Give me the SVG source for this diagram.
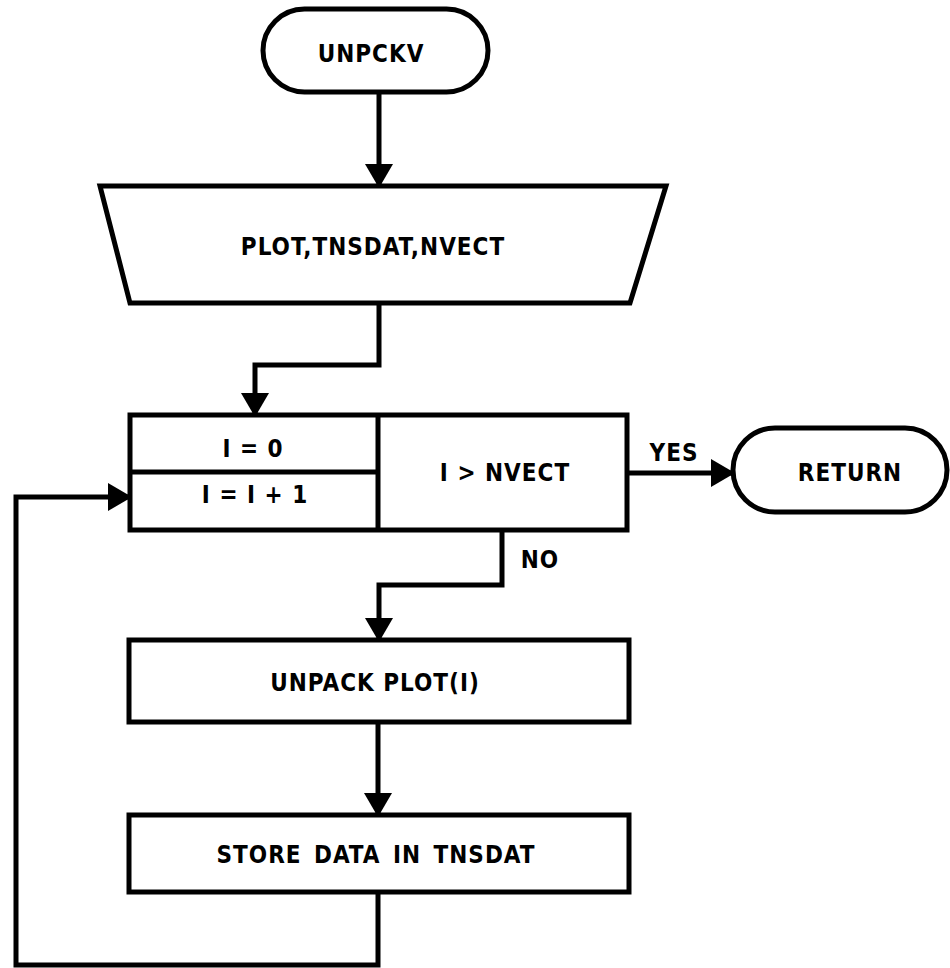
<svg xmlns="http://www.w3.org/2000/svg" width="950" height="968" viewBox="0 0 950 968">
<style>
.s{fill:#fff;stroke:#000;stroke-width:5;stroke-linejoin:miter}
.c{fill:none;stroke:#000;stroke-width:5}
.t{font-family:"DejaVu Sans Condensed","DejaVu Sans",sans-serif;font-weight:bold;font-size:24px;letter-spacing:1px;text-anchor:middle;fill:#000}
</style>
<defs>
<marker id="a" markerUnits="userSpaceOnUse" markerWidth="24" markerHeight="28" refX="22" refY="14" orient="auto">
<path d="M0,0 L24,14 L0,28 z" fill="#000"/>
</marker>
</defs>
<rect width="950" height="968" fill="#fff"/>
<g id="connectors">
<path class="c" d="M379,92 V186" marker-end="url(#a)"/>
<path class="c" d="M379,303 V365 H255 V415" marker-end="url(#a)"/>
<path class="c" d="M627,473 H733" marker-end="url(#a)"/>
<path class="c" d="M502,530 V585 H379 V640" marker-end="url(#a)"/>
<path class="c" d="M378,722 V815" marker-end="url(#a)"/>
<path class="c" d="M378,892 V965 H16 V497 H130" marker-end="url(#a)"/>
<text class="t" x="674" y="461">YES</text>
<text class="t" x="540" y="568">NO</text>
</g>
<g id="start">
<rect class="s" x="263" y="9" width="225" height="83" rx="41.5"/>
<text class="t" x="371" y="62">UNPCKV</text>
</g>
<g id="input">
<path class="s" d="M100,186 H666 L630,303 H130 Z"/>
<text class="t" x="373" y="255">PLOT,TNSDAT,NVECT</text>
</g>
<g id="loop">
<rect class="s" x="130" y="415" width="497" height="115"/>
<path class="c" d="M378,415 V530 M130,472 H378"/>
<text class="t" x="253" y="457">I = 0</text>
<text class="t" x="255" y="503">I = I + 1</text>
<text class="t" x="505" y="481">I &gt; NVECT</text>
</g>
<g id="return">
<rect class="s" x="733" y="428" width="214" height="84" rx="42"/>
<text class="t" x="850" y="481">RETURN</text>
</g>
<g id="unpack">
<rect class="s" x="129" y="640" width="500" height="82"/>
<text class="t" x="375" y="691">UNPACK PLOT(I)</text>
</g>
<g id="store">
<rect class="s" x="129" y="815" width="500" height="77"/>
<text class="t" x="376" y="863" word-spacing="4">STORE DATA IN TNSDAT</text>
</g>
</svg>
